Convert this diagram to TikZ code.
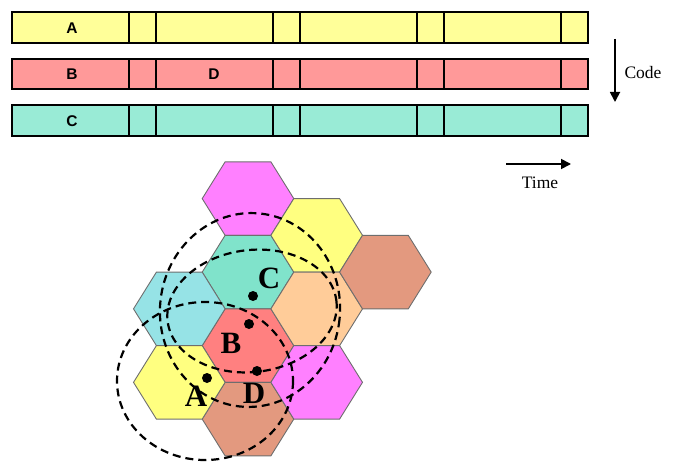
\documentclass[tikz,border=0pt]{standalone}
\usepackage{fontspec}
\setmainfont{Liberation Serif}
\newfontfamily\barfont{Liberation Sans}
\usetikzlibrary{arrows.meta}

\definecolor{baryellow}{HTML}{FFFF99}
\definecolor{barpink}{HTML}{FF9999}
\definecolor{barteal}{HTML}{99EBD6}
\definecolor{hexmagenta}{HTML}{FF80FF}
\definecolor{hexyellow}{HTML}{FFFF80}
\definecolor{hexbrown}{HTML}{E3997F}
\definecolor{hexgreen}{HTML}{80E3CB}
\definecolor{hexcyan}{HTML}{96E3E6}
\definecolor{hexpeach}{HTML}{FFCC99}
\definecolor{hexred}{HTML}{FF8080}
\definecolor{hexedge}{HTML}{6E6E6E}

% flat-topped hexagonal cell: centre x, centre y, fill colour
\newcommand\hexcell[3]{%
  \filldraw[hexcell, fill=#3] ({#1-45.8},#2) -- ({#1-22.9},{#2-36.75})
    -- ({#1+22.9},{#2-36.75}) -- ({#1+45.8},#2) -- ({#1+22.9},{#2+36.75})
    -- ({#1-22.9},{#2+36.75}) -- cycle;}

% time-slot bar: top y, fill colour
\newcommand\slotbar[2]{%
  \filldraw[slotbar, fill=#2] (12,#1) rectangle (588,{#1+30.5});
  \foreach \sx in {129,156,273,300,417,444,561}
    \draw[slotbar] (\sx,#1) -- (\sx,{#1+30.5});}

\tikzset{
  x=1pt, y=-1pt,
  hexcell/.style={draw=hexedge, line width=0.9pt, line join=miter},
  slotbar/.style={draw=black, line width=2pt},
  barlabel/.style={inner sep=0pt, font=\barfont\bfseries\fontsize{15.5}{15.5}\selectfont},
  celllabel/.style={inner sep=0pt, font=\bfseries\fontsize{31}{31}\selectfont},
  axislabel/.style={inner sep=0pt, font=\fontsize{17.5}{17.5}\selectfont},
  axisarrow/.style={line width=1.8pt, -{Triangle[length=10pt,width=10pt]}},
  reach/.style={draw=black, line width=2.2pt, dash pattern=on 8pt off 5pt},
  station/.style={circle, fill=black, inner sep=0pt, minimum size=10pt}
}

\begin{document}
\begin{tikzpicture}
\useasboundingbox (0,0) rectangle (676,462);

% code channels over time
\slotbar{12.5}{baryellow}
\slotbar{59}{barpink}
\slotbar{105.5}{barteal}
\node[barlabel] (slotA) at (72,28) {A};
\node[barlabel] (slotB) at (72,74.5) {B};
\node[barlabel] (slotD) at (214,74.5) {D};
\node[barlabel] (slotC) at (72,121) {C};

% axes
\coordinate (codetop) at (615,39);
\coordinate (codebot) at (615,102);
\draw[axisarrow] (codetop) -- (codebot);
\node[axislabel] (codelbl) at (643,73) {Code};
\coordinate (timeleft) at (506,164);
\coordinate (timeright) at (571,164);
\draw[axisarrow] (timeleft) -- (timeright);
\node[axislabel] (timelbl) at (540,183) {Time};

% cellular layout
\hexcell{248}{198.6}{hexmagenta}
\hexcell{248}{272.1}{hexgreen}
\hexcell{248}{345.6}{hexred}
\hexcell{248}{419.1}{hexbrown}
\hexcell{179.3}{308.85}{hexcyan}
\hexcell{179.3}{382.35}{hexyellow}
\hexcell{316.7}{235.35}{hexyellow}
\hexcell{316.7}{308.85}{hexpeach}
\hexcell{316.7}{382.35}{hexmagenta}
\hexcell{385.4}{272.1}{hexbrown}

% coverage regions
\draw[reach] (205,381) ellipse [x radius=88, y radius=79];
\draw[reach, rotate around={7:(252,311)}] (252,311) ellipse [x radius=85, y radius=61];
\draw[reach, rotate around={-6:(250,310)}] (250,310) ellipse [x radius=90, y radius=97];

% stations
\node[station] (dotA) at (207,378) {};
\node[station] (dotB) at (249,324) {};
\node[station] (dotC) at (253,296) {};
\node[station] (dotD) at (257,371) {};
\node[celllabel] (lblA) at (196,396) {A};
\node[celllabel] (lblB) at (231,343) {B};
\node[celllabel] (lblC) at (269,278) {C};
\node[celllabel] (lblD) at (254,393) {D};
\end{tikzpicture}
\end{document}
